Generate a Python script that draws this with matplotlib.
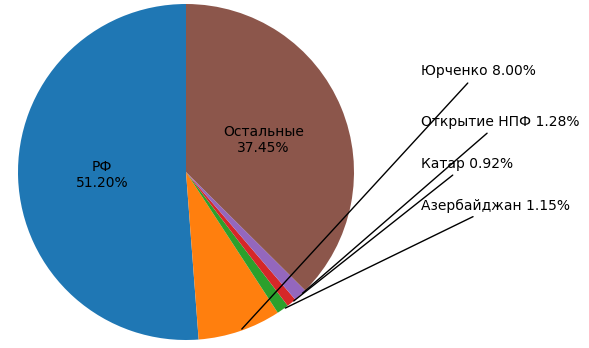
import matplotlib.pyplot as plt
import numpy as np

names = ["РФ", "Юрченко", "Азербайджан", "Катар", "Открытие НПФ", "Остальные"]
shares = [51.20, 8.00, 1.15, 0.92, 1.28, 37.45]
inside = ["РФ", "Остальные"]
# label heights for the small slices, on the right
label_y = {"Юрченко": 0.6, "Открытие НПФ": 0.3, "Катар": 0.05, "Азербайджан": -0.2}

fig = plt.figure(figsize=(5.89, 3.48), dpi=100)
ax = fig.add_axes([0, 0, 1, 1])

labels = [n + "\n" + "%.2f%%" % s if n in inside else "" for n, s in zip(names, shares)]
wedges, texts = ax.pie(shares, labels=labels, startangle=90, counterclock=True,
                       labeldistance=0.5, textprops=dict(ha="center", va="center"))

for w, n, s in zip(wedges, names, shares):
    if n in inside:
        continue
    ang = np.deg2rad((w.theta1 + w.theta2) / 2)
    xy = (np.cos(ang), np.sin(ang))
    ax.annotate("%s %.2f%%" % (n, s), xy=xy, xytext=(1.4, label_y[n]),
                ha="left", va="center", fontsize=10,
                arrowprops=dict(arrowstyle="-", color="black", lw=1))

ax.set_aspect("auto")
ax.set_xlim(-186 / 168, (589 - 186) / 168)
ax.set_ylim(-(348 - 172) / 168, 172 / 168)
ax.axis("off")

fig.savefig("out.png", dpi=100)
